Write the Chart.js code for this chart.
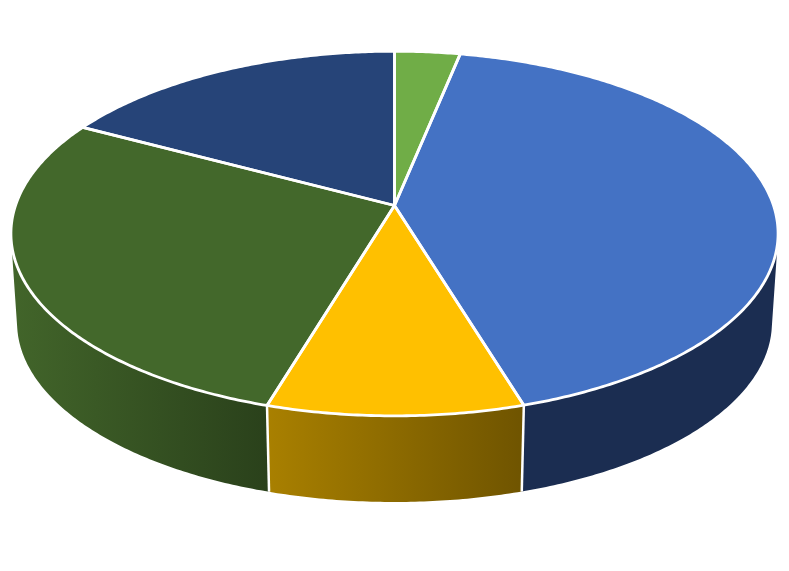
<!DOCTYPE html>
<html>
<head>
<meta charset="utf-8">
<style>html,body{margin:0;padding:0;background:#fff}canvas{display:block}</style>
<script src="https://cdn.jsdelivr.net/npm/chart.js@4/dist/chart.umd.min.js"></script>
</head>
<body>
<canvas id="c" width="789" height="571"></canvas>
<script>
const categories = ['A', 'B', 'C', 'D', 'E'];
const values = [3.2, 42.1, 9.33, 28.17, 17.2];
const topColors = ['#70AD47', '#4472C4', '#FFC000', '#43682B', '#264478'];
const wallLeft = ['#43682B', '#1B2D51', '#A98000', '#42652A', '#16294A'];
const wallRight = ['#2B431C', '#1B2D51', '#6F5400', '#2A411B', '#16294A'];

// Perspective view of the flat disc, applied to the angles Chart.js computes.
const view = { cx: 394.5, cy: 205.5, a: 379, b: 178, k: 0.1538, shrink: 0.984, vanishY: 5800 };

function projectTop(angle) {
  const u = Math.cos(angle), v = Math.sin(angle);
  const w = 1 - view.k * v;
  return [view.cx + view.a * u / w, view.cy + view.b * v / w];
}
function projectBottom(angle) {
  const p = projectTop(angle);
  return [view.cx + (p[0] - view.cx) * view.shrink,
          view.vanishY + (p[1] - view.vanishY) * view.shrink];
}
function samples(a0, a1) {
  const n = Math.max(2, Math.ceil((a1 - a0) / 0.01));
  const out = [];
  for (let i = 0; i <= n; i++) out.push(a0 + (a1 - a0) * i / n);
  return out;
}
function quadArea(q) {
  let s = 0;
  q.forEach((p, i) => { const r = q[(i + 1) % 4]; s += p[0] * r[1] - r[0] * p[1]; });
  return s;
}

const pie3d = {
  id: 'pie3d',
  beforeDatasetsDraw(chart) {
    const ctx = chart.ctx;
    const arcs = chart.getDatasetMeta(0).data;
    ctx.save();
    ctx.lineJoin = 'round';
    ctx.lineCap = 'butt';

    // side walls: consistently wound strips, so the fold at the silhouette stays filled
    arcs.forEach((arc, i) => {
      const angles = samples(arc.startAngle, arc.endAngle);
      const top = angles.map(projectTop);
      const bottom = angles.map(projectBottom);
      const xs = top.map(p => p[0]);
      const g = ctx.createLinearGradient(Math.min(...xs), 0, Math.max(...xs), 0);
      g.addColorStop(0, wallLeft[i]);
      g.addColorStop(1, wallRight[i]);
      ctx.beginPath();
      for (let j = 0; j < angles.length - 1; j++) {
        let q = [top[j], top[j + 1], bottom[j + 1], bottom[j]];
        if (quadArea(q) < 0) q = q.slice().reverse();
        q.forEach((p, m) => m ? ctx.lineTo(p[0], p[1]) : ctx.moveTo(p[0], p[1]));
        ctx.closePath();
      }
      ctx.fillStyle = g;
      ctx.fill('nonzero');
    });
    // separators on the walls
    ctx.strokeStyle = '#fff';
    ctx.lineWidth = 2.5;
    arcs.forEach(arc => {
      const p = projectTop(arc.startAngle), q = projectBottom(arc.startAngle);
      ctx.beginPath();
      ctx.moveTo(p[0], p[1]);
      ctx.lineTo(q[0], q[1]);
      ctx.stroke();
    });
    // top faces
    ctx.lineWidth = 2.8;
    arcs.forEach((arc, i) => {
      ctx.beginPath();
      ctx.moveTo(view.cx, view.cy);
      samples(arc.startAngle, arc.endAngle).map(projectTop).forEach(p => ctx.lineTo(p[0], p[1]));
      ctx.closePath();
      ctx.fillStyle = topColors[i];
      ctx.fill();
    });
    arcs.forEach(arc => {
      ctx.beginPath();
      ctx.moveTo(view.cx, view.cy);
      samples(arc.startAngle, arc.endAngle).map(projectTop).forEach(p => ctx.lineTo(p[0], p[1]));
      ctx.closePath();
      ctx.stroke();
    });
    ctx.restore();
    return false;
  }
};

new Chart(document.getElementById('c'), {
  type: 'pie',
  data: {
    labels: categories,
    datasets: [{ data: values, backgroundColor: topColors }]
  },
  options: {
    responsive: false,
    animation: false,
    events: [],
    plugins: { legend: { display: false }, tooltip: { enabled: false } }
  },
  plugins: [pie3d]
});
</script>
</body>
</html>
